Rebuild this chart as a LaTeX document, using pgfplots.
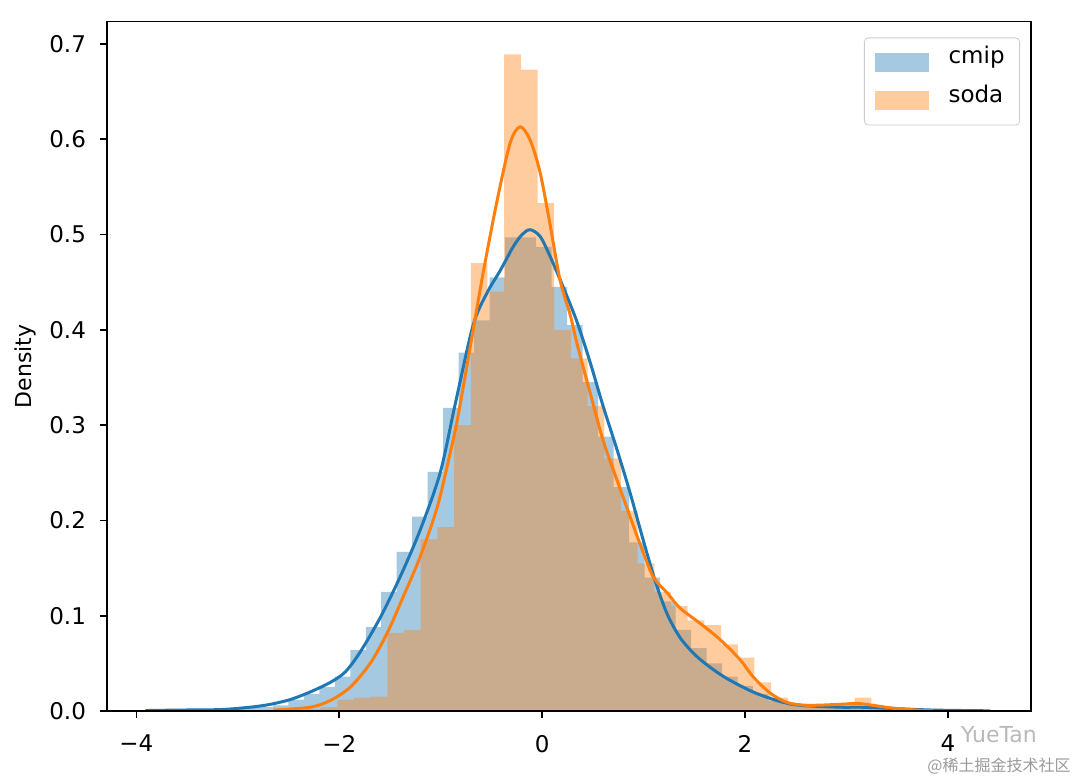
\documentclass[border=0pt]{standalone}
\usepackage{fontspec}
\setmainfont{DejaVu Sans}
\newfontfamily\cjk{Noto Sans CJK SC}
\usepackage{pgfplots}
\pgfplotsset{compat=1.18}
\definecolor{c0}{RGB}{31,119,180}
\definecolor{c1}{RGB}{255,127,14}
\begin{document}
\begin{tikzpicture}
\path[use as bounding box] (-53.5pt,-33pt) rectangle (486.5pt,355.5pt);
\begin{axis}[
  at={(0pt,0pt)}, anchor=south west,
  width=462pt, height=344.75pt, scale only axis,
  xmin=-4.29, xmax=4.82, ymin=0, ymax=0.7235,
  axis on top,
  axis line style={line width=0.8pt, black},
  tick align=outside, major tick length=3.5pt,
  every tick/.style={black, line width=0.8pt},
  xtick={-4,-2,0,2,4}, xticklabels={−4,−2,0,2,4},
  ytick={0,0.1,0.2,0.3,0.4,0.5,0.6,0.7},
  yticklabels={0.0,0.1,0.2,0.3,0.4,0.5,0.6,0.7},
  xtick pos=lower, ytick pos=left,
  tick label style={font=\fontsize{11.5}{13}\selectfont},
  xticklabel style={yshift=-5pt},
  yticklabel style={xshift=-3.5pt},
  ylabel={Density},
  ylabel style={at={([xshift=-41pt]axis description cs:0,0.5)}, anchor=center, font=\fontsize{11}{13}\selectfont},
  legend style={at={(rel axis cs:1,1)}, anchor=north east, xshift=-5.5pt, yshift=-8pt,
    draw=black!20, rounded corners=2pt, fill=white, font=\fontsize{11.5}{13}\selectfont,
    inner xsep=5.5pt, inner ysep=2.3pt, row sep=-0.5pt,
    nodes={text height=8.7pt, text depth=7.05pt},
    /tikz/every odd column/.append style={column sep=7.7pt}},
  legend cell align=left,
]
% cmip histogram
\addplot[draw=none, fill=c0, fill opacity=0.4, const plot mark left, forget plot] coordinates {
(-3.5714,0.0005)(-3.4187,0.001)(-3.2660,0.001)(-3.1133,0.002)(-2.9606,0.003)
(-2.8079,0.004)(-2.6552,0.006)(-2.5024,0.012)(-2.3497,0.018)(-2.1970,0.025)
(-2.0443,0.036)(-1.8916,0.064)(-1.7389,0.088)(-1.5862,0.125)(-1.4335,0.167)
(-1.2808,0.204)(-1.1281,0.251)(-0.9753,0.318)(-0.8226,0.376)(-0.6699,0.410)
(-0.5172,0.455)(-0.3645,0.497)(-0.2118,0.497)(-0.0591,0.487)(0.0936,0.445)
(0.2463,0.405)(0.3991,0.345)(0.5518,0.288)(0.7045,0.235)(0.8572,0.177)
(1.0099,0.140)(1.1626,0.115)(1.3153,0.085)(1.4680,0.066)(1.6207,0.050)
(1.7734,0.036)(1.9262,0.026)(2.0789,0.018)(2.2316,0.011)(2.3843,0.007)
(2.5370,0.005)(2.6897,0.004)(2.8424,0.004)(2.9951,0.005)(3.1478,0.004)
(3.3005,0.002)(3.4533,0.001)(3.6060,0.001)(3.7587,0.001)
} \closedcycle;
% soda histogram
\addplot[draw=none, fill=c1, fill opacity=0.4, const plot mark left, forget plot] coordinates {
(-2.3488,0.002)(-2.1842,0.004)(-2.0197,0.012)(-1.8552,0.014)(-1.6906,0.015)
(-1.5261,0.082)(-1.3616,0.085)(-1.1971,0.180)(-1.0325,0.193)(-0.8680,0.300)
(-0.7035,0.470)(-0.5389,0.440)(-0.3744,0.689)(-0.2099,0.673)(-0.0453,0.533)
(0.1192,0.400)(0.2837,0.370)(0.4483,0.320)(0.6128,0.265)(0.7773,0.210)
(0.9418,0.155)(1.1064,0.125)(1.2709,0.110)(1.4354,0.095)(1.6000,0.090)
(1.7645,0.070)(1.9290,0.056)(2.0936,0.030)(2.2581,0.014)(2.4226,0.007)
(2.5871,0.004)(2.7517,0.003)(2.9162,0.008)(3.0807,0.014)(3.2453,0.004)
(3.4098,0.001)(3.5743,0.001)
} \closedcycle;
% cmip kde
\addplot[c0, line width=1.5pt, smooth, forget plot] coordinates {
(-3.911,0.0005)(-3.567,0.001)(-3.172,0.0015)(-2.877,0.004)(-2.680,0.007)
(-2.483,0.012)(-2.286,0.020)(-2.089,0.030)(-1.941,0.041)(-1.793,0.062)
(-1.596,0.098)(-1.399,0.141)(-1.202,0.190)(-1.005,0.250)(-0.857,0.322)
(-0.680,0.405)(-0.542,0.439)(-0.414,0.462)(-0.286,0.487)(-0.197,0.500)
(-0.118,0.505)(-0.020,0.498)(0.079,0.477)(0.207,0.445)(0.345,0.408)
(0.473,0.366)(0.601,0.320)(0.739,0.274)(0.867,0.229)(0.995,0.180)
(1.113,0.137)(1.232,0.102)(1.360,0.077)(1.507,0.059)(1.655,0.046)
(1.823,0.034)(2.079,0.020)(2.345,0.010)(2.542,0.006)(2.936,0.004)
(3.133,0.004)(3.379,0.003)(3.852,0.001)(4.414,0.0002)
};
% soda kde
\addplot[c1, line width=1.5pt, smooth, forget plot] coordinates {
(-2.650,0.001)(-2.286,0.004)(-2.089,0.011)(-1.892,0.025)(-1.695,0.050)
(-1.527,0.082)(-1.369,0.120)(-1.202,0.162)(-1.034,0.214)(-0.906,0.271)
(-0.828,0.310)(-0.709,0.382)(-0.581,0.460)(-0.443,0.536)(-0.315,0.596)
(-0.217,0.613)(-0.118,0.599)(-0.020,0.565)(0.079,0.510)(0.177,0.452)
(0.276,0.416)(0.345,0.385)(0.473,0.334)(0.601,0.284)(0.739,0.242)
(0.867,0.204)(0.966,0.175)(1.094,0.141)(1.232,0.124)(1.360,0.108)
(1.557,0.092)(1.754,0.075)(1.951,0.054)(2.079,0.036)(2.246,0.019)
(2.414,0.009)(2.611,0.006)(2.936,0.007)(3.103,0.008)(3.261,0.006)
(3.458,0.003)(3.695,0.001)(3.852,0.0002)
};
\addlegendimage{legend image code/.code={\fill[c0!40, sharp corners] (0pt,-4.5pt) rectangle (26.5pt,4.5pt);}}
\addlegendentry{cmip}
\addlegendimage{legend image code/.code={\fill[c1!40, sharp corners] (0pt,-4.5pt) rectangle (26.5pt,4.5pt);}}
\addlegendentry{soda}
\end{axis}
\node[text=gray!55, font=\fontsize{11}{13}\selectfont] at (446pt,-12pt) {YueTan};
\node[text=gray!80, font=\cjk\fontsize{8}{10}\selectfont] at (446pt,-27.5pt) {@稀土掘金技术社区};
\end{tikzpicture}
\end{document}
